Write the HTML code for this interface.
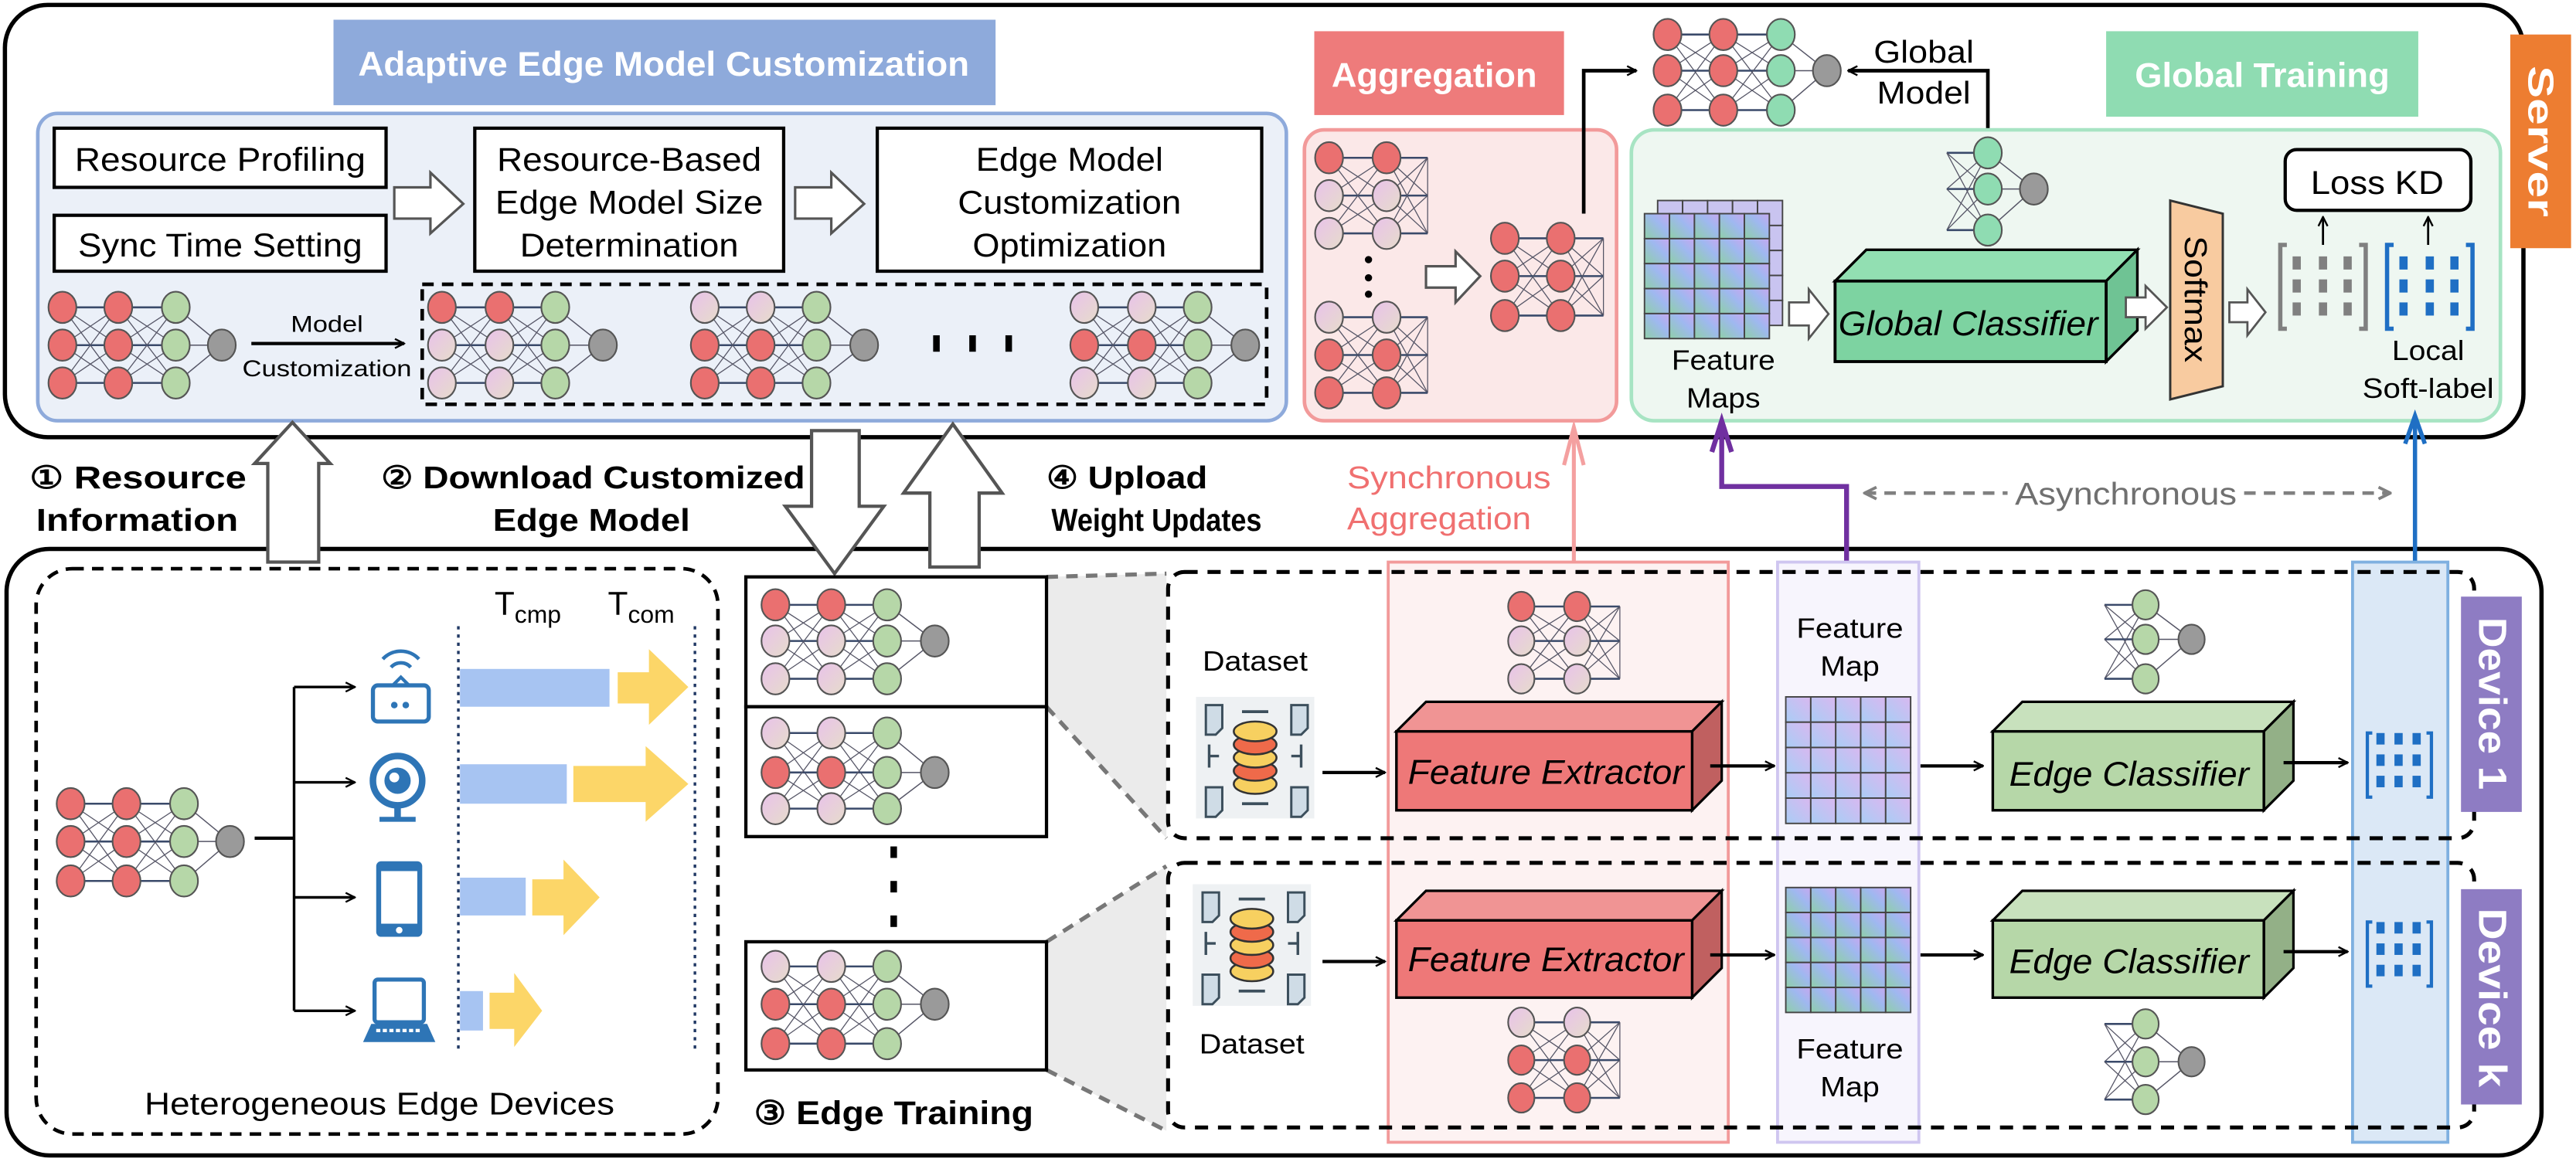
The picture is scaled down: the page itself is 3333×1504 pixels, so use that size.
<!DOCTYPE html>
<html><head><meta charset="utf-8"><style>
html,body{margin:0;padding:0;background:#fff;}
svg{display:block;}
text{font-family:"Liberation Sans",Arial,sans-serif;}
</style></head><body>
<svg id="s" width="3333" height="1504" viewBox="0 0 1568 707" preserveAspectRatio="none" xmlns="http://www.w3.org/2000/svg">
<defs>
<linearGradient id="cg" x1="0" y1="1" x2="1" y2="0"><stop offset="0" stop-color="#a9cdf5"/><stop offset="1" stop-color="#d9b8f0"/></linearGradient>
<linearGradient id="cg2" x1="0" y1="1" x2="1" y2="0"><stop offset="0" stop-color="#8fcfa8"/><stop offset="0.6" stop-color="#9fb8f0"/><stop offset="1" stop-color="#c7a8f0"/></linearGradient>
<linearGradient id="pk" x1="0" y1="0" x2="1" y2="1"><stop offset="0" stop-color="#e9c2ea"/><stop offset="1" stop-color="#e6dccb"/></linearGradient>
<marker id="ah" viewBox="0 0 10 10" refX="9" refY="5" markerWidth="7" markerHeight="7" orient="auto-start-reverse" markerUnits="userSpaceOnUse"><path d="M1,1 L9,5 L1,9" fill="none" stroke="#000" stroke-width="1.6"/></marker>
<marker id="ahg" viewBox="0 0 10 10" refX="9" refY="5" markerWidth="9" markerHeight="9" orient="auto-start-reverse" markerUnits="userSpaceOnUse"><path d="M1,1 L9,5 L1,9" fill="none" stroke="#808080" stroke-width="2"/></marker>
</defs>

<rect x="3" y="3" width="1533" height="263" rx="26" fill="#fff" stroke="#000" stroke-width="2.6"/>
<rect x="4" y="334" width="1543" height="369" rx="26" fill="#fff" stroke="#000" stroke-width="2.6"/>

<rect x="203" y="12" width="403" height="52" fill="#8eaadb"/>
<text x="404" y="46" font-size="21" font-weight="bold" fill="#fff" text-anchor="middle" textLength="372" lengthAdjust="spacingAndGlyphs">Adaptive Edge Model Customization</text>
<rect x="23" y="69" width="760" height="187" rx="12" fill="#ebf0f8" stroke="#8eaadb" stroke-width="2.2"/>
<rect x="33" y="78" width="202" height="36" fill="#fff" stroke="#000" stroke-width="2"/>
<text x="134" y="104" font-size="20" text-anchor="middle" textLength="177" lengthAdjust="spacingAndGlyphs">Resource Profiling</text>
<rect x="33" y="131" width="202" height="34" fill="#fff" stroke="#000" stroke-width="2"/>
<text x="134" y="156" font-size="20" text-anchor="middle" textLength="173" lengthAdjust="spacingAndGlyphs">Sync Time Setting</text>
<polygon points="240,114 262,114 262,105 282,124 262,142 262,133 240,133" fill="#fff" stroke="#555" stroke-width="1.5"/>
<rect x="289" y="78" width="188" height="87" fill="#fff" stroke="#000" stroke-width="2"/>
<text x="383" y="104" font-size="20" text-anchor="middle" textLength="161" lengthAdjust="spacingAndGlyphs">Resource-Based</text>
<text x="383" y="130" font-size="20" text-anchor="middle" textLength="163" lengthAdjust="spacingAndGlyphs">Edge Model Size</text>
<text x="383" y="156" font-size="20" text-anchor="middle" textLength="133" lengthAdjust="spacingAndGlyphs">Determination</text>
<polygon points="484,114 506,114 506,105 526,124 506,142 506,133 484,133" fill="#fff" stroke="#555" stroke-width="1.5"/>
<rect x="534" y="78" width="234" height="87" fill="#fff" stroke="#000" stroke-width="2"/>
<text x="651" y="104" font-size="20" text-anchor="middle" textLength="114" lengthAdjust="spacingAndGlyphs">Edge Model</text>
<text x="651" y="130" font-size="20" text-anchor="middle" textLength="136" lengthAdjust="spacingAndGlyphs">Customization</text>
<text x="651" y="156" font-size="20" text-anchor="middle" textLength="118" lengthAdjust="spacingAndGlyphs">Optimization</text>
<line x1="153" y1="209" x2="246" y2="209" stroke="#000" stroke-width="2" marker-end="url(#ah)"/>
<text x="199" y="202" font-size="14" text-anchor="middle" textLength="44" lengthAdjust="spacingAndGlyphs">Model</text>
<text x="199" y="229" font-size="14" text-anchor="middle" textLength="103" lengthAdjust="spacingAndGlyphs">Customization</text>
<rect x="257" y="173" width="514" height="73" fill="none" stroke="#000" stroke-width="2.2" stroke-dasharray="7,5"/>
<rect x="568" y="204" width="4" height="10" fill="#000"/><rect x="590" y="204" width="4" height="10" fill="#000"/><rect x="612" y="204" width="4" height="10" fill="#000"/>

<rect x="800" y="19" width="152" height="51" fill="#ee7b7b"/>
<text x="873" y="53" font-size="21" font-weight="bold" fill="#fff" text-anchor="middle" textLength="125" lengthAdjust="spacingAndGlyphs">Aggregation</text>
<rect x="794" y="79" width="190" height="177" rx="12" fill="#fbe8e8" stroke="#f29a9a" stroke-width="2.2"/>
<circle cx="833" cy="158" r="2.2" fill="#000"/><circle cx="833" cy="169" r="2.2" fill="#000"/><circle cx="833" cy="179" r="2.2" fill="#000"/>
<polygon points="868,162 886,162 886,153 901,168 886,184 886,175 868,175" fill="#fff" stroke="#555" stroke-width="1.5"/>
<polyline points="964,130 964,43 996,43" fill="none" stroke="#000" stroke-width="2.2" marker-end="url(#ah)"/>
<polyline points="1210,85 1210,43 1125,43" fill="none" stroke="#000" stroke-width="2.2" marker-end="url(#ah)"/>
<text x="1171" y="38" font-size="19" text-anchor="middle" textLength="61" lengthAdjust="spacingAndGlyphs">Global</text>
<text x="1171" y="63" font-size="19" text-anchor="middle" textLength="57" lengthAdjust="spacingAndGlyphs">Model</text>

<rect x="1282" y="19" width="190" height="52" fill="#8fdcb2"/>
<text x="1377" y="53" font-size="21" font-weight="bold" fill="#fff" text-anchor="middle" textLength="155" lengthAdjust="spacingAndGlyphs">Global Training</text>
<rect x="993" y="79" width="529" height="177" rx="14" fill="#eef7f1" stroke="#a7e4c3" stroke-width="2.2"/>
<g id="gfm"></g>
<text x="1049" y="225" font-size="17" text-anchor="middle" textLength="63" lengthAdjust="spacingAndGlyphs">Feature</text>
<text x="1049" y="248" font-size="17" text-anchor="middle" textLength="45" lengthAdjust="spacingAndGlyphs">Maps</text>
<polygon points="1089,184 1101,184 1101,176 1113,191 1101,206 1101,198 1089,198" fill="#fff" stroke="#555" stroke-width="1.3"/>
<polygon points="1117,171 1136,152 1301,152 1282,171" fill="#92dfb2" stroke="#000" stroke-width="1.6"/>
<polygon points="1282,171 1301,152 1301,201 1282,220" fill="#6fc394" stroke="#000" stroke-width="1.6"/>
<rect x="1117" y="171" width="165" height="49" fill="#7dd3a1" stroke="#000" stroke-width="1.8"/>
<text x="1198" y="204" font-size="21" font-style="italic" text-anchor="middle" textLength="158" lengthAdjust="spacingAndGlyphs">Global Classifier</text>
<polygon points="1294,181 1306,181 1306,174 1319,187 1306,200 1306,193 1294,193" fill="#fff" stroke="#555" stroke-width="1.3"/>
<polygon points="1321,122 1353,130 1353,235 1321,243" fill="#f8cba0" stroke="#333" stroke-width="1.4"/>
<text transform="translate(1330,182) rotate(90)" font-size="19" text-anchor="middle" textLength="77" lengthAdjust="spacingAndGlyphs">Softmax</text>
<polygon points="1357,184 1368,184 1368,176 1379,190 1368,204 1368,196 1357,196" fill="#fff" stroke="#555" stroke-width="1.3"/>
<path d="M1392,149 h-4 v51 h4 M1436,149 h4 v51 h-4" fill="none" stroke="#808080" stroke-width="2.6"/>
<path d="M1457,149 h-4 v51 h4 M1501,149 h4 v51 h-4" fill="none" stroke="#1f6fc4" stroke-width="2.6"/>
<g id="brk"></g>
<line x1="1414" y1="149" x2="1414" y2="132" stroke="#000" stroke-width="1.3" marker-end="url(#ah)"/>
<line x1="1478" y1="149" x2="1478" y2="132" stroke="#000" stroke-width="1.3" marker-end="url(#ah)"/>
<rect x="1391" y="91" width="113" height="37" rx="7" fill="#fff" stroke="#000" stroke-width="2"/>
<text x="1447" y="118" font-size="20" text-anchor="middle" textLength="81" lengthAdjust="spacingAndGlyphs">Loss KD</text>
<text x="1478" y="219" font-size="17" text-anchor="middle" textLength="44" lengthAdjust="spacingAndGlyphs">Local</text>
<text x="1478" y="242" font-size="17" text-anchor="middle" textLength="80" lengthAdjust="spacingAndGlyphs">Soft-label</text>
<rect x="1528" y="21" width="37" height="130" fill="#ed7d31"/>
<text transform="translate(1539,86) rotate(90)" font-size="22" font-weight="bold" fill="#fff" text-anchor="middle" textLength="92" lengthAdjust="spacingAndGlyphs">Server</text>

<polygon points="163,342 163,282 155,282 178,257 201,282 194,282 194,342" fill="#fff" stroke="#555" stroke-width="2"/>
<polygon points="494,262 523,262 523,308 538,308 508,349 478,308 494,308" fill="#fff" stroke="#555" stroke-width="2"/>
<polygon points="566,345 566,300 550,300 580,258 610,300 596,300 596,345" fill="#fff" stroke="#555" stroke-width="2"/>
<text x="18" y="297" font-size="19" font-weight="bold" textLength="132" lengthAdjust="spacingAndGlyphs">① Resource</text>
<text x="22" y="323" font-size="19" font-weight="bold" textLength="123" lengthAdjust="spacingAndGlyphs">Information</text>
<text x="232" y="297" font-size="19" font-weight="bold" textLength="258" lengthAdjust="spacingAndGlyphs">② Download Customized</text>
<text x="360" y="323" font-size="19" font-weight="bold" text-anchor="middle" textLength="120" lengthAdjust="spacingAndGlyphs">Edge Model</text>
<text x="637" y="297" font-size="19" font-weight="bold" textLength="98" lengthAdjust="spacingAndGlyphs">④ Upload</text>
<text x="640" y="323" font-size="19" font-weight="bold" textLength="128" lengthAdjust="spacingAndGlyphs">Weight Updates</text>
<text x="882" y="297" font-size="19" fill="#f07070" text-anchor="middle" textLength="124" lengthAdjust="spacingAndGlyphs">Synchronous</text>
<text x="876" y="322" font-size="19" fill="#f07070" text-anchor="middle" textLength="112" lengthAdjust="spacingAndGlyphs">Aggregation</text>
<line x1="958" y1="342" x2="958" y2="261" stroke="#f4a0a0" stroke-width="2.4"/>
<path d="M952,283 L958,260 L964,283" fill="none" stroke="#f4a0a0" stroke-width="2.4"/>
<polyline points="1124,342 1124,296 1048,296 1048,258" fill="none" stroke="#7030a0" stroke-width="3"/>
<path d="M1042,275 L1048,256 L1054,275" fill="none" stroke="#7030a0" stroke-width="3"/>
<line x1="1470" y1="342" x2="1470" y2="256" stroke="#1f6fc4" stroke-width="2.6"/>
<path d="M1464,270 L1470,253 L1476,270" fill="none" stroke="#1f6fc4" stroke-width="2.6"/>
<line x1="1135" y1="300" x2="1222" y2="300" stroke="#808080" stroke-width="2.2" stroke-dasharray="7,5" marker-start="url(#ahg)"/>
<line x1="1366" y1="300" x2="1455" y2="300" stroke="#808080" stroke-width="2.2" stroke-dasharray="7,5" marker-end="url(#ahg)"/>
<text x="1294" y="307" font-size="19" fill="#707070" text-anchor="middle" textLength="135" lengthAdjust="spacingAndGlyphs">Asynchronous</text>

<rect x="22" y="346" width="415" height="344" rx="22" fill="none" stroke="#000" stroke-width="2.2" stroke-dasharray="7,5"/>
<line x1="155" y1="510" x2="179" y2="510" stroke="#000" stroke-width="2"/>
<line x1="179" y1="418" x2="179" y2="615" stroke="#000" stroke-width="1.6"/>
<line x1="179" y1="418" x2="216" y2="418" stroke="#000" stroke-width="1.6" marker-end="url(#ah)"/>
<line x1="179" y1="476" x2="216" y2="476" stroke="#000" stroke-width="1.6" marker-end="url(#ah)"/>
<line x1="179" y1="546" x2="216" y2="546" stroke="#000" stroke-width="1.6" marker-end="url(#ah)"/>
<line x1="179" y1="615" x2="216" y2="615" stroke="#000" stroke-width="1.6" marker-end="url(#ah)"/>
<line x1="279" y1="381" x2="279" y2="640" stroke="#203864" stroke-width="1.6" stroke-dasharray="2,3"/>
<line x1="423" y1="381" x2="423" y2="640" stroke="#203864" stroke-width="1.6" stroke-dasharray="2,3"/>
<text x="301" y="374" font-size="20">T<tspan font-size="15" dy="5">cmp</tspan></text>
<text x="370" y="374" font-size="20">T<tspan font-size="15" dy="5">com</tspan></text>
<rect x="280" y="407" width="91" height="23" fill="#a7c4f2"/><polygon points="376,409 395,409 395,395 419,418 395,441 395,428 376,428" fill="#fcd668"/>
<rect x="280" y="465" width="65" height="24" fill="#a7c4f2"/><polygon points="349,466 393,466 393,454 419,477 393,500 393,488 349,488" fill="#fcd668"/>
<rect x="280" y="534" width="40" height="23" fill="#a7c4f2"/><polygon points="324,535 343,535 343,523 365,546 343,569 343,557 324,557" fill="#fcd668"/>
<rect x="280" y="603" width="14" height="24" fill="#a7c4f2"/><polygon points="298,604 313,604 313,592 330,615 313,637 313,626 298,626" fill="#fcd668"/>
<text x="231" y="678" font-size="19" text-anchor="middle" textLength="286" lengthAdjust="spacingAndGlyphs">Heterogeneous Edge Devices</text>
<g id="icons"></g>

<polygon points="637,351 710,349 710,510 637,430" fill="#ebebeb"/>
<polygon points="637,573 710,527 710,688 637,651" fill="#ebebeb"/>
<line x1="637" y1="351" x2="710" y2="349" stroke="#777" stroke-width="2.5" stroke-dasharray="7,5"/>
<line x1="637" y1="430" x2="710" y2="510" stroke="#777" stroke-width="2.5" stroke-dasharray="7,5"/>
<line x1="637" y1="573" x2="710" y2="527" stroke="#777" stroke-width="2.5" stroke-dasharray="7,5"/>
<line x1="637" y1="651" x2="710" y2="688" stroke="#777" stroke-width="2.5" stroke-dasharray="7,5"/>
<rect x="454" y="351" width="183" height="79" fill="#fff" stroke="#000" stroke-width="2"/>
<rect x="454" y="430" width="183" height="79" fill="#fff" stroke="#000" stroke-width="2"/>
<rect x="454" y="573" width="183" height="78" fill="#fff" stroke="#000" stroke-width="2"/>
<rect x="542" y="515" width="4" height="7" fill="#000"/><rect x="542" y="536" width="4" height="7" fill="#000"/><rect x="542" y="557" width="4" height="7" fill="#000"/>
<text x="459" y="684" font-size="20" font-weight="bold" textLength="170" lengthAdjust="spacingAndGlyphs">③ Edge Training</text>

<rect x="845" y="342" width="207" height="353" fill="#fdf2f2" stroke="#f29a9a" stroke-width="1.8"/>
<rect x="1082" y="342" width="86" height="353" fill="#f7f5fd" stroke="#cfc6f0" stroke-width="1.8"/>
<rect x="1432" y="342" width="58" height="353" fill="#dbe8f6" stroke="#7fb0e0" stroke-width="1.8"/>
<rect x="711" y="348" width="795" height="162" rx="10" fill="none" stroke="#000" stroke-width="2.4" stroke-dasharray="8,6"/>
<rect x="711" y="525" width="795" height="161" rx="10" fill="none" stroke="#000" stroke-width="2.4" stroke-dasharray="8,6"/>
<rect x="1498" y="363" width="37" height="131" fill="#8e7cc3"/>
<text transform="translate(1509,428) rotate(90)" font-size="24" font-weight="bold" fill="#fff" text-anchor="middle" textLength="105" lengthAdjust="spacingAndGlyphs">Device 1</text>
<rect x="1498" y="541" width="37" height="131" fill="#8e7cc3"/>
<text transform="translate(1509,607) rotate(90)" font-size="24" font-weight="bold" fill="#fff" text-anchor="middle" textLength="109" lengthAdjust="spacingAndGlyphs">Device k</text>

<text x="764" y="408" font-size="17" text-anchor="middle" textLength="64" lengthAdjust="spacingAndGlyphs">Dataset</text>
<text x="762" y="641" font-size="17" text-anchor="middle" textLength="64" lengthAdjust="spacingAndGlyphs">Dataset</text>
<text x="1126" y="388" font-size="17" text-anchor="middle" textLength="65" lengthAdjust="spacingAndGlyphs">Feature</text>
<text x="1126" y="411" font-size="17" text-anchor="middle" textLength="36" lengthAdjust="spacingAndGlyphs">Map</text>
<text x="1126" y="644" font-size="17" text-anchor="middle" textLength="65" lengthAdjust="spacingAndGlyphs">Feature</text>
<text x="1126" y="667" font-size="17" text-anchor="middle" textLength="36" lengthAdjust="spacingAndGlyphs">Map</text>

<g id="dev"></g>
<polygon points="850,445 868,427 1048,427 1030,445" fill="#f09494" stroke="#000" stroke-width="1.5"/>
<polygon points="1030,445 1048,427 1048,475 1030,493" fill="#c06060" stroke="#000" stroke-width="1.5"/>
<rect x="850" y="445" width="180" height="48" fill="#ee7878" stroke="#000" stroke-width="1.6"/>
<text x="941" y="477" font-size="21" font-style="italic" text-anchor="middle" textLength="168" lengthAdjust="spacingAndGlyphs">Feature Extractor</text>
<polygon points="1213,445 1231,427 1396,427 1378,445" fill="#c8e1bd" stroke="#000" stroke-width="1.5"/>
<polygon points="1378,445 1396,427 1396,475 1378,493" fill="#93b087" stroke="#000" stroke-width="1.5"/>
<rect x="1213" y="445" width="165" height="48" fill="#b6d7a8" stroke="#000" stroke-width="1.6"/>
<text x="1296" y="478" font-size="21" font-style="italic" text-anchor="middle" textLength="146" lengthAdjust="spacingAndGlyphs">Edge Classifier</text>
<polygon points="850,560 868,542 1048,542 1030,560" fill="#f09494" stroke="#000" stroke-width="1.5"/>
<polygon points="1030,560 1048,542 1048,589 1030,607" fill="#c06060" stroke="#000" stroke-width="1.5"/>
<rect x="850" y="560" width="180" height="47" fill="#ee7878" stroke="#000" stroke-width="1.6"/>
<text x="941" y="591" font-size="21" font-style="italic" text-anchor="middle" textLength="168" lengthAdjust="spacingAndGlyphs">Feature Extractor</text>
<polygon points="1213,560 1231,542 1396,542 1378,560" fill="#c8e1bd" stroke="#000" stroke-width="1.5"/>
<polygon points="1378,560 1396,542 1396,589 1378,607" fill="#93b087" stroke="#000" stroke-width="1.5"/>
<rect x="1213" y="560" width="165" height="47" fill="#b6d7a8" stroke="#000" stroke-width="1.6"/>
<text x="1296" y="592" font-size="21" font-style="italic" text-anchor="middle" textLength="146" lengthAdjust="spacingAndGlyphs">Edge Classifier</text>
<line x1="805" y1="470" x2="843" y2="470" stroke="#000" stroke-width="2" marker-end="url(#ah)"/>
<line x1="805" y1="585" x2="843" y2="585" stroke="#000" stroke-width="2" marker-end="url(#ah)"/>
<line x1="1041" y1="466" x2="1080" y2="466" stroke="#000" stroke-width="2" marker-end="url(#ah)"/>
<line x1="1041" y1="581" x2="1080" y2="581" stroke="#000" stroke-width="2" marker-end="url(#ah)"/>
<line x1="1169" y1="466" x2="1207" y2="466" stroke="#000" stroke-width="2" marker-end="url(#ah)"/>
<line x1="1169" y1="581" x2="1207" y2="581" stroke="#000" stroke-width="2" marker-end="url(#ah)"/>
<line x1="1390" y1="464" x2="1429" y2="464" stroke="#000" stroke-width="2" marker-end="url(#ah)"/>
<line x1="1390" y1="579" x2="1429" y2="579" stroke="#000" stroke-width="2" marker-end="url(#ah)"/>
<path d="M1444,446 h-3 v39 h3 M1477,446 h3 v39 h-3 M1444,561 h-3 v39 h3 M1477,561 h3 v39 h-3" fill="none" stroke="#1f6fc4" stroke-width="2"/>

<g id="nets"></g>
</svg>
<script>
var NS="http://www.w3.org/2000/svg";
function el(p,t,a){var e=document.createElementNS(NS,t);for(var k in a)e.setAttribute(k,a[k]);p.appendChild(e);return e;}
var C={r:"#ea7070",p:"url(#pk)",g:"#b6d7a8",m:"#8fdcb2",o:"#9a9a9a"};
var nets=document.getElementById("nets");
function nn(xs,ys,cols,out,r,fanEnd){
  r=r||8.5;var g=el(nets,"g",{});
  for(var i=0;i<xs.length-1;i++){for(var a=0;a<ys.length;a++)for(var b=0;b<ys.length;b++){
    el(g,"line",{x1:xs[i],y1:ys[a],x2:xs[i+1],y2:ys[b],stroke:a==b?"#3a4a6a":"#556",'stroke-width':a==b?1.2:0.6});}}
  if(fanEnd){var L=xs[xs.length-1];for(var a=0;a<ys.length;a++)for(var b=0;b<ys.length;b++)
    el(g,"line",{x1:L,y1:ys[a],x2:fanEnd,y2:ys[b],stroke:a==b?"#3a4a6a":"#556",'stroke-width':a==b?1.2:0.6});
    el(g,"line",{x1:fanEnd,y1:ys[0],x2:fanEnd,y2:ys[ys.length-1],stroke:"#556",'stroke-width':0.6});}
  if(out){for(var a=0;a<ys.length;a++)el(g,"line",{x1:xs[xs.length-1],y1:ys[a],x2:out[0],y2:out[1],stroke:"#556",'stroke-width':0.7});}
  for(var i=0;i<xs.length;i++)for(var a=0;a<ys.length;a++){
    var c=cols[i]?cols[i][a]:null;if(!c)continue;
    el(g,"ellipse",{cx:xs[i],cy:ys[a],rx:r,ry:r*1.12,fill:C[c],stroke:"#555",'stroke-width':1});}
  if(out)el(g,"ellipse",{cx:out[0],cy:out[1],rx:r,ry:r*1.12,fill:C.o,stroke:"#555",'stroke-width':1});
}
var Y1=[187,210,233];
nn([38,72,107],Y1,["rrr","rrr","ggg"],[135,210]);
nn([269,304,338],Y1,["rpp","rpp","ggg"],[367,210]);
nn([429,463,497],Y1,["prr","prr","ggg"],[526,210]);
nn([660,695,729],Y1,["prp","prp","ggg"],[758,210]);
nn([809,844],[96,119,142],["rpp","rpp"],null,8.5,869);
nn([809,844],[193,216,239],["prr","prr"],null,8.5,869);
nn([916,950],[145,168,192],["rrr","rrr"],null,8.5,976);
nn([1015,1049,1084],[21,43,67],["rrr","rrr","mmm"],[1112,43]);
nn([1185,1210],[93,115,140],[null,"mmm"],[1238,115]);
nn([43,77,112],[489,512,536],["rrr","rrr","ggg"],[140,512]);
nn([472,506,540],[368,390,413],["rpp","rpp","ggg"],[569,390]);
nn([472,506,540],[446,470,492],["prp","prp","ggg"],[569,470]);
nn([472,506,540],[588,611,635],["prr","prr","ggg"],[569,611]);
nn([926,960],[369,390,413],["rpp","rpp"],null,8,986);
nn([926,960],[622,645,668],["prr","prr"],null,8,986);
nn([1281,1306],[368,389,413],[null,"ggg"],[1334,389],8);
nn([1281,1306],[623,646,669],[null,"ggg"],[1334,646],8);

function grid(p,x,y,w,h,n,m,fill){for(var i=0;i<n;i++)for(var j=0;j<m;j++)el(p,"rect",{x:x+i*w/n,y:y+j*h/m,width:w/n,height:h/m,fill:fill,stroke:"#444",'stroke-width':0.9});}
var dev=document.getElementById("dev");
grid(dev,1087,424,76,77,5,5,"url(#cg)");
grid(dev,1087,540,76,76,5,5,"url(#cg2)");
var gfm=document.getElementById("gfm");
grid(gfm,1009,122,76,76,5,5,"#c9c4f0");
grid(gfm,1001,130,76,76,5,5,"url(#cg2)");
var brk=document.getElementById("brk");
[[1398,"#808080"],[1414,"#808080"],[1429,"#808080"],[1463,"#1f6fc4"],[1479,"#1f6fc4"],[1494,"#1f6fc4"]].forEach(function(d){[156,170,184].forEach(function(y){el(brk,"rect",{x:d[0]-2.5,y:y,width:5,height:8,fill:d[1]});});});
[[446,459,472],[561,574,587]].forEach(function(ys){[1449,1460,1471].forEach(function(x){ys.forEach(function(y){el(dev,"rect",{x:x-2.5,y:y,width:5,height:7,fill:"#1f6fc4"});});});});
function ds(cx,cy){var g=el(dev,"g",{});
  el(g,"rect",{x:cx-36,y:cy-37,width:72,height:74,fill:"#eef1f3"});
  [[-30,-32],[22,-32],[-30,18],[22,18]].forEach(function(o){el(g,"path",{d:"M"+(cx+o[0])+","+(cy+o[1])+" h10 v14 l-4,4 h-6 z",fill:"#cfdce6",stroke:"#3c4f5c",'stroke-width':1.4});});
  el(g,"line",{x1:cx-8,y1:cy-28,x2:cx+8,y2:cy-28,stroke:"#3c4f5c",'stroke-width':1.8});
  el(g,"line",{x1:cx-8,y1:cy+28,x2:cx+8,y2:cy+28,stroke:"#3c4f5c",'stroke-width':1.8});
  el(g,"path",{d:"M"+(cx-28)+","+(cy-8)+" v14 M"+(cx-28)+","+(cy-1)+" h6 M"+(cx+28)+","+(cy-8)+" v14 M"+(cx+28)+","+(cy-1)+" h-6",stroke:"#3c4f5c",'stroke-width':1.6,fill:"none"});
  for(var i=4;i>=0;i--){el(g,"ellipse",{cx:cx,cy:cy-16+i*8,rx:13,ry:6,fill:i%2?"#ef6a4a":"#f7d060",stroke:"#333",'stroke-width':1.2});}
}
ds(764,461);ds(762,575);
var ic=document.getElementById("icons");var B="#2e75b6";
function router(x,y){el(ic,"rect",{x:x-17,y:y-6,width:34,height:22,rx:3,fill:"#fff",stroke:B,'stroke-width':2.5});
 el(ic,"circle",{cx:x-4,cy:y+6,r:2,fill:B});el(ic,"circle",{cx:x+3,cy:y+6,r:2,fill:B});
 el(ic,"path",{d:"M"+(x-5)+","+(y-6)+" L"+x+","+(y-11)+" L"+(x+5)+","+(y-6),fill:"none",stroke:B,'stroke-width':2});
 el(ic,"path",{d:"M"+(x-6)+","+(y-17)+" a8,8 0 0 1 12,0 M"+(x-11)+","+(y-22)+" a15,15 0 0 1 22,0",fill:"none",stroke:B,'stroke-width':2.2});}
function cam(x,y){el(ic,"circle",{cx:x,cy:y-5,r:15,fill:"#fff",stroke:B,'stroke-width':4});el(ic,"circle",{cx:x,cy:y-5,r:8,fill:B});el(ic,"circle",{cx:x-2,cy:y-7,r:3,fill:"#fff"});
 el(ic,"rect",{x:x-2,y:y+10,width:4,height:8,fill:B});el(ic,"rect",{x:x-11,y:y+17,width:22,height:3,fill:B});}
function laptop(x,y){el(ic,"rect",{x:x-15,y:y-20,width:30,height:26,rx:2,fill:"#fff",stroke:B,'stroke-width':2.5});
 el(ic,"polygon",{points:(x-17)+","+(y+7)+" "+(x+17)+","+(y+7)+" "+(x+22)+","+(y+18)+" "+(x-22)+","+(y+18),fill:B});
 for(var i=-14;i<=12;i+=4)el(ic,"rect",{x:x+i,y:y+10,width:2.5,height:2,fill:"#fff"});}
function phone(x,y){el(ic,"rect",{x:x-14,y:y-23,width:28,height:46,rx:3,fill:B});el(ic,"rect",{x:x-11,y:y-17,width:22,height:32,fill:"#fff"});el(ic,"circle",{cx:x,cy:y+19,r:2,fill:"#fff"});}
router(244,423);cam(242,480);phone(243,547);laptop(243,616);
router(610,393);cam(610,474);laptop(610,615);
</script>
</body></html>
